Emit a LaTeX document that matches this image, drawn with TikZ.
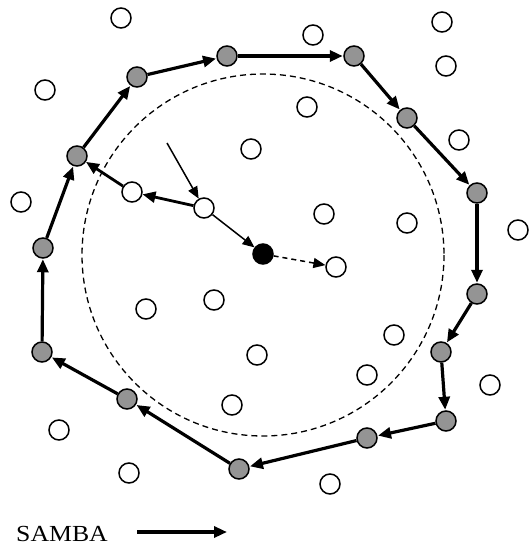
\documentclass[tikz,border=0pt]{standalone}
\usepackage{fontspec}
\setmainfont{Liberation Serif}
\usetikzlibrary{arrows.meta}
\begin{document}
\begin{tikzpicture}[x=1pt,y=-1pt,
  idle/.style={circle,draw,line width=1.5pt,fill=white,minimum size=20pt,inner sep=0pt},
  relay/.style={circle,draw,line width=1.5pt,fill=black!42,minimum size=20pt,inner sep=0pt},
  src/.style={circle,draw,line width=1.5pt,fill=black,minimum size=20pt,inner sep=0pt},
  hop/.style={line width=3.2pt,-{Triangle[length=13pt,width=11pt]},shorten >=0.5pt},
  thin/.style={line width=1.5pt,-{Triangle[length=12pt,width=10pt]}},
  mid/.style={line width=2.8pt,-{Triangle[length=13pt,width=11pt]}}]
\useasboundingbox (0,0) rectangle (528,546);

% transmission range of the source
\draw[line width=1.3pt,dash pattern=on 6pt off 4pt] (263,255) circle (181);

% ring of forwarding nodes
\node[relay] (r1) at (42,352) {};
\node[relay] (r2) at (43,248) {};
\node[relay] (r3) at (77,156) {};
\node[relay] (r4) at (137,77) {};
\node[relay] (r5) at (227,56) {};
\node[relay] (r6) at (354,56) {};
\node[relay] (r7) at (407,118) {};
\node[relay] (r8) at (477,193) {};
\node[relay] (r9) at (477,294) {};
\node[relay] (r10) at (441,352) {};
\node[relay] (r11) at (446,421) {};
\node[relay] (r12) at (367,438) {};
\node[relay] (r13) at (239,469) {};
\node[relay] (r14) at (127,399) {};

% idle nodes
\node[idle] (w1) at (121,18) {};
\node[idle] (w2) at (45,90) {};
\node[idle] (w3) at (251,149) {};
\node[idle] (w4) at (21,202) {};
\node[idle] (w5) at (132,192) {};
\node[idle] (w6) at (204,208) {};
\node[idle] (w7) at (313,35) {};
\node[idle] (w8) at (442,22) {};
\node[idle] (w9) at (446,66) {};
\node[idle] (w10) at (307,107) {};
\node[idle] (w11) at (459,140) {};
\node[idle] (w12) at (324,214) {};
\node[idle] (w13) at (407,223) {};
\node[idle] (w14) at (518,230) {};
\node[idle] (w15) at (336,267) {};
\node[idle] (w16) at (146,309) {};
\node[idle] (w17) at (214,300) {};
\node[idle] (w18) at (257,355) {};
\node[idle] (w19) at (232,405) {};
\node[idle] (w20) at (59,430) {};
\node[idle] (w21) at (129,473) {};
\node[idle] (w22) at (394,335) {};
\node[idle] (w23) at (367,375) {};
\node[idle] (w24) at (490,385) {};
\node[idle] (w25) at (330,484) {};

% source node
\node[src] (s) at (263,254) {};

% incoming request and forwarding towards the ring
\coordinate (in) at (167,143);
\draw[thin] (in) -- (w6);
\draw[thin] (w6) -- (s);
\draw[thin,dash pattern=on 5pt off 4pt] (s) -- (w15);
\draw[mid] (w6) -- (w5);
\draw[mid] (w5) -- (r3);

% SAMBA hops around the ring
\foreach \a/\b in {r1/r2,r2/r3,r3/r4,r4/r5,r5/r6,r6/r7,r7/r8,r8/r9,r9/r10,r10/r11,r11/r12,r12/r13,r13/r14,r14/r1}
  \draw[hop] (\a) -- (\b);

% legend
\node[anchor=base west,inner sep=0pt,font=\fontsize{23}{27}\selectfont] (lbl) at (16,541) {\scalebox{1.12}[1]{SAMBA}};
\coordinate (la) at (137,532);
\coordinate (lb) at (227,532);
\draw[hop,shorten >=0pt] (la) -- (lb);
\end{tikzpicture}
\end{document}
